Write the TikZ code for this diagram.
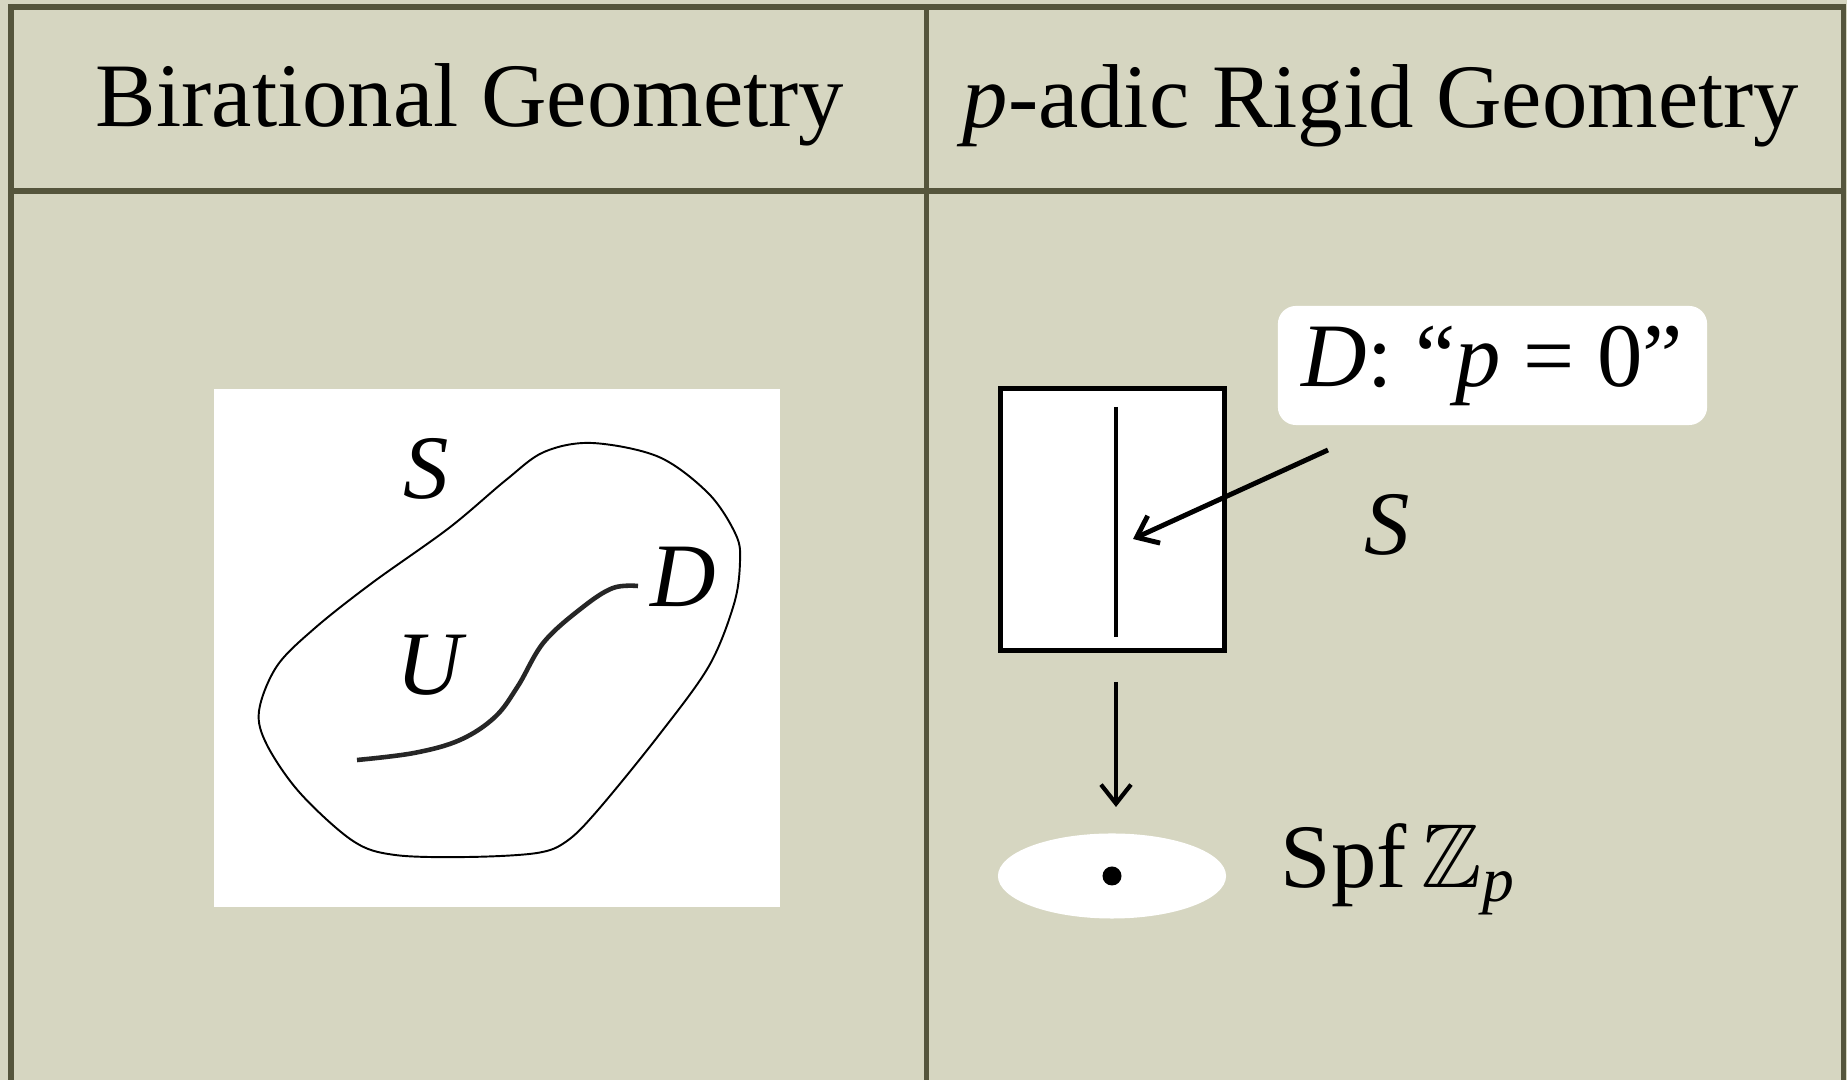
\documentclass[tikz,border=0pt]{standalone}
\usepackage{amsmath,amssymb}
\usepackage{fontspec}
\setmainfont{Liberation Serif}
\usetikzlibrary{arrows.meta, shapes.geometric}

\definecolor{paper}{RGB}{214,214,193}
\definecolor{tablerule}{RGB}{85,85,60}

\begin{document}
\begin{tikzpicture}[x=0.01cm, y=-0.01cm,
    >={Straight Barb[length=0.19cm, width=0.3cm]},
    txt/.style={font=\fontsize{25.8}{31}\selectfont, inner sep=0pt, anchor=base},
    gridline/.style={draw=tablerule, line width=1.6pt},
    tag/.style={fill=white, rounded corners=0.18cm, inner sep=0pt,
      minimum width=4.29cm, minimum height=1.19cm, font=\fontsize{25.8}{31}\selectfont}]
  \useasboundingbox (0,0) rectangle (1847,1080);
  \fill[paper] (0,0) rectangle (1847,1080);

  % table
  \draw[gridline] (11,1080) -- (11,7) -- (1843.5,7) -- (1843.5,1080);
  \draw[gridline] (11,191) -- (1843.5,191);
  \draw[gridline] (926.5,7) -- (926.5,1080);
  \node[txt] (headL) at (470,127) {Birational Geometry};
  \node[txt] (headR) at (1381,128) {\textit{p}-adic Rigid Geometry};

  % left: surface with divisor
  \fill[white] (214,389) rectangle (780,907);
  \draw[line width=0.55pt] plot[smooth cycle, tension=0.55] coordinates {
    (592,443) (659,457) (709,494) (736,535) (740,562) (734,604) (709,666)
    (659,735) (598,810) (567,841) (537,853) (468,857) (395,855) (353,841)
    (300,793) (267,745) (259,711) (277,666) (315,628) (372,583) (449,528)
    (506,480) (544,452)};
  \draw[line width=1.3pt, black!85] plot[smooth, tension=0.6] coordinates {
    (357,760) (414,753) (460,740) (495,717) (518,686) (544,642) (583,607)
    (613,588) (638,586)};
  \node[txt] (sL) at (426,499) {\textit{S}};
  \node[txt] (uL) at (432,695) {\textit{U}};
  \node[txt] (dL) at (683,607) {\textit{D}};

  % right: formal scheme over Spf Z_p
  \node[draw, fill=white, line width=1.4pt, inner sep=0pt,
    minimum width=2.24cm, minimum height=2.62cm] (sbox) at (1112.5,519.5) {};
  \coordinate (dtop) at (1116,407);
  \coordinate (dbot) at (1116,637);
  \draw[line width=1.3pt] (dtop) -- (dbot);
  \node[tag] (dlabel) at (1492.5,365.5) {\textit{D}: ``\textit{p} = 0''};
  \coordinate (arrA) at (1328,450);
  \coordinate (arrB) at (1133,539);
  \draw[->, line width=1.4pt] (arrA) -- (arrB);
  \node[txt] (sR) at (1387,555) {\textit{S}};
  \coordinate (downA) at (1116,682);
  \coordinate (downB) at (1116,807);
  \draw[->, line width=1.2pt] (downA) -- (downB);
  \node[ellipse, fill=white, inner sep=0pt,
    minimum width=2.28cm, minimum height=0.85cm] (spec) at (1112,876) {};
  \node[circle, fill, inner sep=0pt, minimum size=0.19cm] (pt) at (spec.center) {};
  \node[txt, anchor=base west] (spf) at (1280,888) {Spf\,$\mathbb{Z}_{\textit{p}}$};
\end{tikzpicture}
\end{document}
